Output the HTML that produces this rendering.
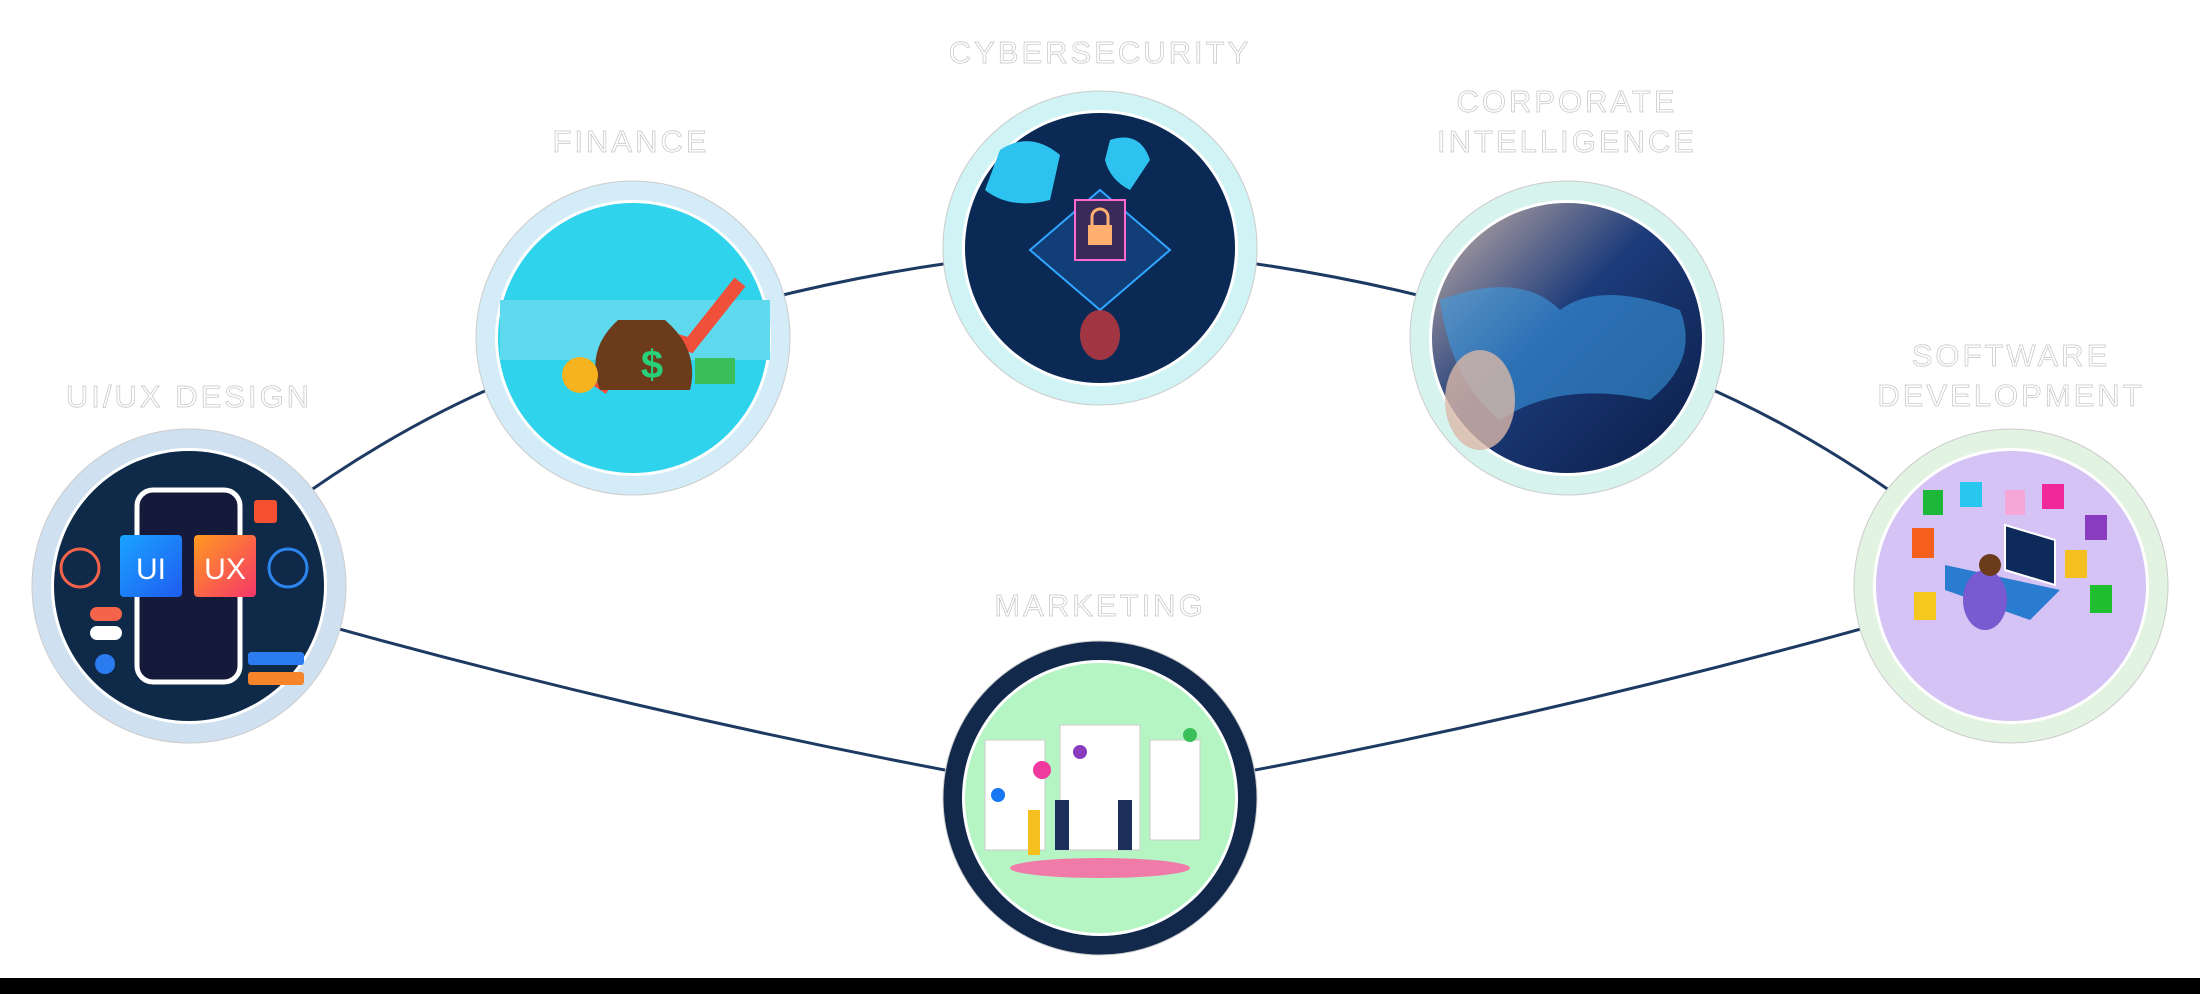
<!DOCTYPE html>
<html><head><meta charset="utf-8"><style>
html,body{margin:0;padding:0;background:#fff;}
body{width:2200px;height:994px;position:relative;overflow:hidden;font-family:"Liberation Sans",sans-serif;}
.lbl{position:absolute;color:#fff;-webkit-text-stroke:0.7px #c4c4c4;font-size:31px;letter-spacing:3px;text-align:center;line-height:40px;width:400px;font-weight:400;}
.bar{position:absolute;left:0;top:978px;width:2200px;height:16px;background:#000;}
</style></head><body>
<svg width="2200" height="994" style="position:absolute;left:0;top:0">
<defs>
<linearGradient id="corp" x1="0" y1="0" x2="1" y2="1"><stop offset="0" stop-color="#c9b2a8"/><stop offset="0.45" stop-color="#1c3b7a"/><stop offset="1" stop-color="#0a1c45"/></linearGradient>
<linearGradient id="uig" x1="0" y1="0" x2="1" y2="1"><stop offset="0" stop-color="#1aa3ff"/><stop offset="1" stop-color="#1f5cf0"/></linearGradient>
<linearGradient id="uxg" x1="0" y1="0" x2="1" y2="1"><stop offset="0" stop-color="#ff9a1f"/><stop offset="1" stop-color="#f5366a"/></linearGradient>
</defs>
<g fill="none" stroke="#1d3a62" stroke-width="3">
<path d="M189 586 Q400 400 633 338"/>
<path d="M633 338 Q860 262 1100 248"/>
<path d="M1100 248 Q1340 262 1567 338"/>
<path d="M1567 338 Q1800 400 2011 586"/>
<path d="M189 586 Q640 720 1100 798"/>
<path d="M1100 798 Q1560 720 2011 586"/>
</g>
<!-- UI/UX -->
<circle cx="189" cy="586" r="157" fill="#cfe0f0" stroke="#ccc" stroke-width="1"/>
<circle cx="189" cy="586" r="138" fill="#fff"/>
<circle cx="189" cy="586" r="135" fill="#0e2a48"/>
<rect x="137" y="490" width="103" height="192" rx="16" fill="#15193a" stroke="#fff" stroke-width="5"/>
<rect x="120" y="535" width="62" height="62" rx="4" fill="url(#uig)"/>
<rect x="194" y="535" width="62" height="62" rx="4" fill="url(#uxg)"/>
<text x="151" y="579" fill="#fff" font-size="30" text-anchor="middle">UI</text>
<text x="225" y="579" fill="#fff" font-size="30" text-anchor="middle">UX</text>
<circle cx="80" cy="568" r="19" fill="none" stroke="#f5634a" stroke-width="3"/>
<circle cx="288" cy="568" r="19" fill="none" stroke="#2d86f0" stroke-width="3"/>
<rect x="90" y="607" width="32" height="14" rx="7" fill="#f5634a"/>
<rect x="90" y="626" width="32" height="14" rx="7" fill="#fff"/>
<rect x="248" y="652" width="56" height="13" rx="3" fill="#2a7cf0"/>
<rect x="248" y="672" width="56" height="13" rx="3" fill="#f5842a"/>
<circle cx="105" cy="664" r="10" fill="#2a7cf0"/>
<rect x="254" y="500" width="23" height="23" rx="3" fill="#f5502f"/>
<!-- Finance -->
<circle cx="633" cy="338" r="157" fill="#d3ecf7" stroke="#ccc" stroke-width="1"/>
<circle cx="633" cy="338" r="138" fill="#fff"/>
<circle cx="633" cy="338" r="135" fill="#2fd3ec"/>
<rect x="500" y="300" width="270" height="60" fill="#5fd9ee"/>
<path d="M600 390 L640 330 L690 345 L740 282" fill="none" stroke="#f0503a" stroke-width="14"/>
<path d="M618 320 Q585 350 600 390 L690 390 Q700 350 665 320 Z" fill="#6b3b1c"/>
<text x="652" y="378" fill="#28d07a" font-size="40" text-anchor="middle" font-weight="bold">$</text>
<circle cx="580" cy="375" r="18" fill="#f7b21f"/>
<rect x="695" y="358" width="40" height="26" fill="#3bbf5a"/>
<!-- Cyber -->
<circle cx="1100" cy="248" r="157" fill="#d0f3f5" stroke="#ccc" stroke-width="1"/>
<circle cx="1100" cy="248" r="138" fill="#fff"/>
<circle cx="1100" cy="248" r="135" fill="#0a2a55"/>
<path d="M1000 150 Q1030 130 1060 155 L1050 200 Q1010 210 985 190 Z" fill="#2dc2ef"/>
<path d="M1110 140 Q1140 130 1150 160 L1130 190 Q1110 180 1105 160 Z" fill="#2dc2ef"/>
<polygon points="1100,190 1170,250 1100,310 1030,250" fill="#123e78" stroke="#2fa6ff" stroke-width="2"/>
<rect x="1075" y="200" width="50" height="60" fill="#3a2a5a" stroke="#ff6ad0" stroke-width="2"/>
<rect x="1088" y="225" width="24" height="20" fill="#ffb070"/>
<path d="M1092 225 v-8 a8 8 0 0 1 16 0 v8" fill="none" stroke="#ffb070" stroke-width="3"/>
<ellipse cx="1100" cy="335" rx="20" ry="25" fill="#e23a3a" opacity="0.7"/>
<!-- Corporate -->
<circle cx="1567" cy="338" r="157" fill="#d6f3ee" stroke="#ccc" stroke-width="1"/>
<circle cx="1567" cy="338" r="138" fill="#fff"/>
<circle cx="1567" cy="338" r="135" fill="url(#corp)"/>
<path d="M1440 300 Q1520 270 1560 310 Q1600 280 1680 310 Q1700 360 1650 400 Q1560 380 1500 420 Q1450 380 1440 300 Z" fill="#3a9fe8" opacity="0.55"/>
<ellipse cx="1480" cy="400" rx="35" ry="50" fill="#d9b8a8" opacity="0.8"/>
<!-- Software -->
<circle cx="2011" cy="586" r="157" fill="#e3f3e2" stroke="#ccc" stroke-width="1"/>
<circle cx="2011" cy="586" r="138" fill="#fff"/>
<circle cx="2011" cy="586" r="135" fill="#d5c3f5"/>
<rect x="1923" y="490" width="20" height="25" fill="#1db83a"/>
<rect x="1960" y="482" width="22" height="25" fill="#28c7f0"/>
<rect x="2005" y="490" width="20" height="25" fill="#f5a8d8"/>
<rect x="2042" y="484" width="22" height="25" fill="#f0289a"/>
<rect x="2085" y="515" width="22" height="25" fill="#8a3cc0"/>
<rect x="1912" y="528" width="22" height="30" fill="#f5601f"/>
<rect x="2065" y="550" width="22" height="28" fill="#f5c01f"/>
<rect x="2090" y="585" width="22" height="28" fill="#1fbf30"/>
<rect x="1914" y="592" width="22" height="28" fill="#f5c81f"/>
<polygon points="2005,525 2055,540 2055,585 2005,570" fill="#0d2a5a" stroke="#fff" stroke-width="2"/>
<polygon points="1945,565 2060,590 2030,620 1945,590" fill="#2a7cd0"/>
<ellipse cx="1985" cy="600" rx="22" ry="30" fill="#7a5ad0"/>
<circle cx="1990" cy="565" r="11" fill="#6b3b1c"/>
<!-- Marketing -->
<circle cx="1100" cy="798" r="157" fill="#13294b" stroke="#ccc" stroke-width="1"/>
<circle cx="1100" cy="798" r="138" fill="#fff"/>
<circle cx="1100" cy="798" r="135" fill="#b5f5c4"/>
<rect x="985" y="740" width="60" height="110" fill="#fff" stroke="#ccc"/>
<rect x="1060" y="725" width="80" height="125" fill="#fff" stroke="#ccc"/>
<rect x="1150" y="740" width="50" height="100" fill="#fff" stroke="#ccc"/>
<ellipse cx="1100" cy="868" rx="90" ry="10" fill="#f07aa8"/>
<circle cx="1042" cy="770" r="9" fill="#f03aa0"/>
<circle cx="1080" cy="752" r="7" fill="#8a3cc0"/>
<circle cx="1190" cy="735" r="7" fill="#3bbf5a"/>
<circle cx="998" cy="795" r="7" fill="#1877f2"/>
<rect x="1055" y="800" width="14" height="50" fill="#1b2f5a"/>
<rect x="1118" y="800" width="14" height="50" fill="#1b2f5a"/>
<rect x="1028" y="810" width="12" height="45" fill="#f5c01f"/>
</svg>
<div class="lbl" style="left:-11px;top:377px">UI/UX DESIGN</div>
<div class="lbl" style="left:431px;top:122px">FINANCE</div>
<div class="lbl" style="left:900px;top:33px">CYBERSECURITY</div>
<div class="lbl" style="left:1367px;top:82px">CORPORATE<br>INTELLIGENCE</div>
<div class="lbl" style="left:1811px;top:336px">SOFTWARE<br>DEVELOPMENT</div>
<div class="lbl" style="left:900px;top:586px">MARKETING</div>
<div class="bar"></div>
</body></html>
